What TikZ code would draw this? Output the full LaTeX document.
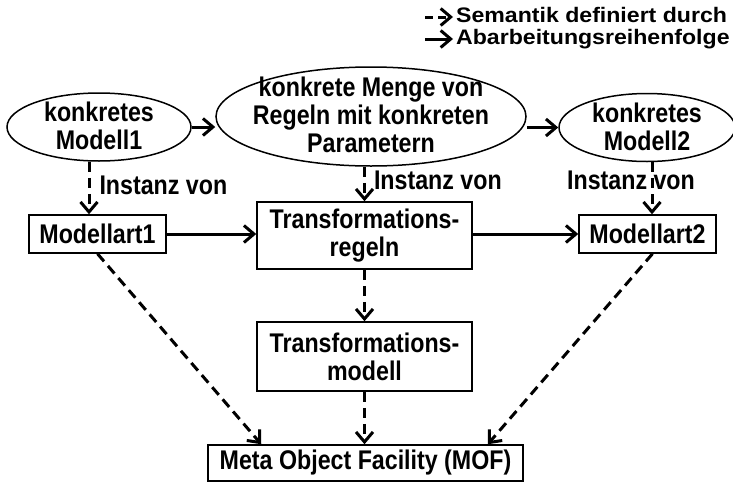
\documentclass[tikz,border=0pt]{standalone}
\usepackage{fontspec}
\setmainfont{Liberation Sans}[FakeStretch=0.86]
\newfontfamily\legfont{Liberation Sans}[FakeStretch=1.1]
\usetikzlibrary{arrows.meta, shapes.geometric, positioning}

\tikzset{
  txt/.style={font=\bfseries\fontsize{27}{28}\selectfont, align=center, inner sep=0pt},
  ell/.style={draw, ellipse, line width=1.5pt, inner sep=0pt},
  box/.style={txt, draw, rectangle, line width=1.5pt},
  flow/.style={line width=3pt, -{Straight Barb[length=10pt,width=17pt]}},
  sem/.style={flow, dash pattern=on 10pt off 6pt},
}

\begin{document}
\begin{tikzpicture}[x=1pt, y=-1pt]
\useasboundingbox (0,0) rectangle (733,482);

%---Legende---
\coordinate (semA) at (425,17);
\coordinate (semB) at (453,17);
\coordinate (flowA) at (425,39);
\coordinate (flowB) at (453,39);
\draw[sem, dash pattern=on 8pt off 5pt] (semA) -- (semB);
\draw[flow] (flowA) -- (flowB);
\node[txt, align=left, font=\legfont\bfseries\fontsize{21}{22}\selectfont, anchor=west] (legtxt) at (456,28) {Semantik definiert durch\\Abarbeitungsreihenfolge};

%---konkrete Ebene---
\node[ell, minimum width=184pt, minimum height=68pt] (m1) at (99,127) {};
\node[txt] (m1txt) at ([yshift=1pt]m1.center) {konkretes\\Modell1};
\node[ell, minimum width=310pt, minimum height=99pt] (regel) at (371,116.5) {};
\node[txt] (regeltxt) at ([yshift=2pt]regel.center) {konkrete Menge von\\Regeln mit konkreten\\Parametern};
\node[ell, minimum width=176pt, minimum height=68pt] (m2) at (647,127.5) {};
\node[txt] (m2txt) at ([yshift=1pt]m2.center) {konkretes\\Modell2};

\draw[flow] (m1.east) -- (m1.east -| regel.west);
\draw[flow] (regel.east |- m2.west) -- (m2.west);

%---Modellarten---
\node[box, minimum width=137pt, minimum height=38pt] (art1) at (97.5,234) {Modellart1};
\node[box, minimum width=215pt, minimum height=67pt] (trule) at (364.5,235.5) {Transformations-\\regeln};
\node[box, minimum width=137pt, minimum height=38pt] (art2) at (647.5,234) {Modellart2};

\draw[flow] (art1.east) -- (art1.east -| trule.west);
\draw[flow] (trule.east |- art2.west) -- (art2.west);

\draw[sem] ([xshift=-10pt]m1.south) -- node[txt, pos=0.44, right=9pt] (inst1) {Instanz von} ([xshift=-10pt]m1.south |- art1.north);
\draw[sem] (regel.south -| trule.north) -- node[txt, pos=0.39, right=8pt] (inst2) {Instanz von} (trule.north);
\draw[sem] ([xshift=5pt]m2.south) -- node[txt, pos=0.35, xshift=-21pt] (inst3) {Instanz von} ([xshift=5pt]m2.south |- art2.north);

%---Metaebene---
\node[box, minimum width=215pt, minimum height=69pt] (tmod) at (364.5,356.5) {Transformations-\\modell};
\node[box, minimum width=315pt, minimum height=36pt] (mof) at (365.5,463) {Meta Object Facility (MOF)};

\draw[sem] (trule) -- (tmod);
\draw[sem] (tmod.south) -- (tmod.south |- mof.north);
\draw[sem] (art1.south) -- ([xshift=54pt]mof.north west);
\draw[sem] ([xshift=5pt]art2.south) -- ([xshift=-36pt]mof.north east);

\end{tikzpicture}
\end{document}
